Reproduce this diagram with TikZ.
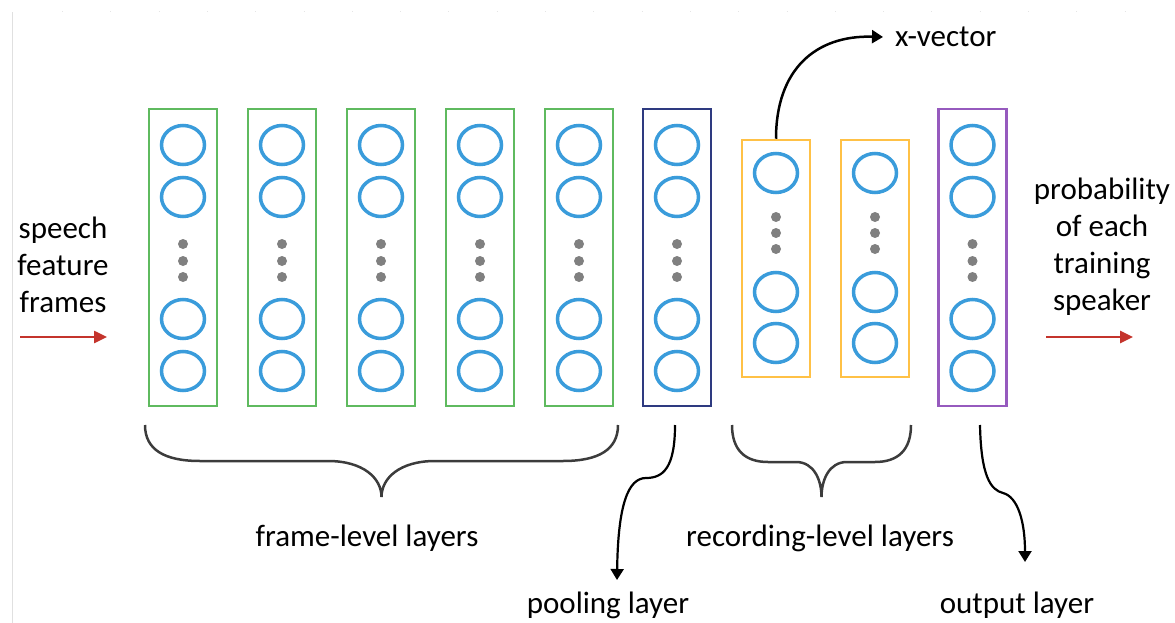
\documentclass[tikz,border=0pt]{standalone}
\usepackage{fontspec}
\setmainfont{Carlito}
\usetikzlibrary{shapes.geometric,arrows.meta}

\definecolor{framegreen}{RGB}{95,186,95}
\definecolor{unitblue}{RGB}{58,156,219}
\definecolor{poolnavy}{RGB}{46,58,128}
\definecolor{recorange}{RGB}{255,193,70}
\definecolor{outpurple}{RGB}{150,90,190}
\definecolor{dotgray}{RGB}{128,128,128}
\definecolor{flowred}{RGB}{196,52,44}
\definecolor{bracegray}{RGB}{60,60,60}

\begin{document}
\begin{tikzpicture}[x=1pt,y=-1pt,
  layerbox/.style={draw, line width=2.5pt, minimum width=68pt, minimum height=297pt, inner sep=0pt},
  shortbox/.style={layerbox, minimum height=237pt},
  unit/.style={ellipse, draw=unitblue, line width=3.5pt, minimum width=43pt, minimum height=39pt, inner sep=0pt},
  gapdot/.style={circle, fill=dotgray, minimum size=10pt, inner sep=0pt},
  txt/.style={font=\fontsize{31}{37}\selectfont, inner sep=0pt},
  brace/.style={draw=bracegray, line width=2.5pt},
  pointer/.style={line width=2.5pt, -{Triangle[length=11pt,width=13pt]}},
  flow/.style={draw=flowred, line width=2.5pt, -{Triangle[length=13pt,width=12pt]}}]

\useasboundingbox (0,0) rectangle (1175,623);

% faint frame edges
\draw[black!12, line width=1pt] (12,12) -- (12,623);
\draw[black!10, line width=1pt, dash pattern=on 1pt off 47.3pt] (62,12) -- (1150,12);

% full-height layers: four units with a gap of dots
\foreach \n/\x/\c in {f1/183/framegreen, f2/282/framegreen, f3/381/framegreen,
                      f4/480/framegreen, f5/579/framegreen, pool/677/poolnavy,
                      out/972.5/outpurple} {
  \node[layerbox, draw=\c] (\n) at (\x,257.5) {};
  \node[unit] (\n-u1) at (\x,145) {};
  \node[unit] (\n-u2) at (\x,197) {};
  \node[gapdot] (\n-d1) at (\x,244) {};
  \node[gapdot] (\n-d2) at (\x,261) {};
  \node[gapdot] (\n-d3) at (\x,277) {};
  \node[unit] (\n-u3) at (\x,319) {};
  \node[unit] (\n-u4) at (\x,371) {};
}

% recording-level layers: three units with a gap of dots
\foreach \n/\x in {r1/776, r2/875} {
  \node[shortbox, draw=recorange] (\n) at (\x,258.5) {};
  \node[unit] (\n-u1) at (\x,173) {};
  \node[gapdot] (\n-d1) at (\x,217) {};
  \node[gapdot] (\n-d2) at (\x,233) {};
  \node[gapdot] (\n-d3) at (\x,249) {};
  \node[unit] (\n-u2) at (\x,292) {};
  \node[unit] (\n-u3) at (\x,343) {};
}

% input and output texts
\node[txt, align=center] (inText) at (63,265) {speech\\feature\\frames};
\node[txt, align=center] (outText) at (1102,247) {probability\\of each\\training\\speaker};
\coordinate (inTail) at (20,337);
\coordinate (inHead) at (107,337);
\coordinate (outTail) at (1046,337);
\coordinate (outHead) at (1133,337);
\draw[flow] (inTail) -- (inHead);
\draw[flow] (outTail) -- (outHead);

% embedding output
\node[txt, anchor=west] (xv) at (895,37) {x-vector};
\draw[pointer] (r1.north) .. controls (776,70) and (815,35) .. ([xshift=-12pt]xv.west);

% braces
\coordinate (fTip) at (381.5,497);
\draw[brace] (145,425) .. controls (145,450) and (165,461) .. (200,461) -- (328,461)
  .. controls (363,461) and (381.5,478) .. (fTip)
  .. controls (381.5,478) and (400,461) .. (435,461) -- (563,461)
  .. controls (598,461) and (618,450) .. (618,425);
\coordinate (rTip) at (821.5,497);
\draw[brace] (732,425) .. controls (732,450) and (745,462) .. (768,462) -- (796,462)
  .. controls (814,462) and (821.5,480) .. (rTip)
  .. controls (821.5,480) and (829,462) .. (847,462) -- (875,462)
  .. controls (898,462) and (911,450) .. (911,425);

\node[txt] (frameLbl) at (367,538) {frame-level layers};
\node[txt] (recLbl) at (820,538) {recording-level layers};

% pooling and output pointers
\node[txt] (poolLbl) at (608,605) {pooling layer};
\node[txt] (outLbl) at (1017,605) {output layer};
\coordinate (poolTail) at (675,425);
\coordinate (outLTail) at (980,425);
\draw[pointer, line width=2.2pt] (poolTail) .. controls (675,468) and (663,478) .. (646,478)
  .. controls (628,478) and (618,505) .. (617,580);
\draw[pointer, line width=2.2pt] (outLTail) .. controls (981,477) and (991,490) .. (1003,493)
  .. controls (1018,497) and (1025,522) .. (1025,562);
\end{tikzpicture}
\end{document}
